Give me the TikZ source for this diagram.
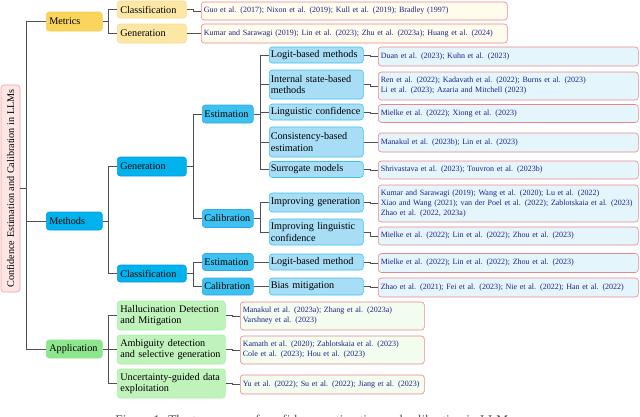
\documentclass[tikz,border=0pt]{standalone}
\usepackage{fontspec}
\setmainfont{Liberation Serif}
\usepackage{xcolor}
\usepackage{tikz}

\definecolor{rootfill}{HTML}{FFE6E6}
\definecolor{rootline}{HTML}{F2A0A0}
\definecolor{citeline}{HTML}{E8878A}
\definecolor{citeblue}{HTML}{1F1F8C}
\definecolor{wireline}{HTML}{505050}
\definecolor{goldone}{HTML}{FAD55C}
\definecolor{goldtwo}{HTML}{FDE7A4}
\definecolor{goldcite}{HTML}{FFFCEE}
\definecolor{blueone}{HTML}{00B3EC}
\definecolor{bluethree}{HTML}{3DC2F0}
\definecolor{bluefour}{HTML}{A8DDF6}
\definecolor{bluecite}{HTML}{E5F5FC}
\definecolor{greenone}{HTML}{8EE58E}
\definecolor{greentwo}{HTML}{C0F2BC}
\definecolor{greencite}{HTML}{F2FCEF}

\newcommand{\boxfont}{\fontsize{10.2}{11.6}\selectfont}
\newcommand{\refsfont}{\fontsize{8}{10}\selectfont}

\begin{document}
\begin{tikzpicture}[x=1pt, y=-1pt,
  tbox/.style={draw, rounded corners=3pt, line width=0.6pt, anchor=west, align=left, inner xsep=3pt, inner ysep=0pt, font=\boxfont},
  goldbox/.style={tbox, fill=goldone, draw=goldone!90!orange},
  goldsub/.style={tbox, fill=goldtwo, draw=goldtwo!85!orange},
  bluebox/.style={tbox, fill=blueone, draw=blueone!85!blue},
  bluemid/.style={tbox, fill=bluethree, draw=bluethree!85!blue, inner xsep=2pt},
  blueleaf/.style={tbox, fill=bluefour, draw=bluethree, inner xsep=1.5pt},
  greenbox/.style={tbox, fill=greenone, draw=greenone!90!green},
  greensub/.style={tbox, fill=greentwo, draw=greentwo!85!green},
  cbox/.style={tbox, draw=citeline, font=\refsfont, text=citeblue, inner xsep=2.5pt},
  wire/.style={draw=wireline, line width=0.9pt}]

\useasboundingbox (0,0) rectangle (640,416);

% Raiz
\node[draw=rootline, fill=rootfill, rounded corners=3pt, line width=0.6pt, rotate=90,
  minimum width=207pt, minimum height=19pt, inner sep=0pt, font=\boxfont] (root) at (10.5,188.5)
  {Confidence Estimation and Calibration in LLMs};

% Nivel 1
\node[goldbox, text width=50pt, minimum height=19pt] (metrics) at (46,21.5) {Metrics};
\node[bluebox, text width=50pt, minimum height=18pt] (methods) at (46,221) {Methods};
\node[greenbox, text width=50pt, minimum height=18pt] (app) at (46,349) {Application};

% Metrics
\node[goldsub, text width=63pt, minimum height=17pt] (mcls) at (117,9.5) {Classification};
\node[goldsub, text width=63pt, minimum height=19pt] (mgen) at (117,33.5) {Generation};
\node[cbox, fill=goldcite, text width=301pt, minimum height=18pt] (rmcls) at (201,11)
  {Guo et al. (2017); Nixon et al. (2019); Kull et al. (2019); Bradley (1997)};
\node[cbox, fill=goldcite, text width=301pt, minimum height=19pt] (rmgen) at (201,33.5)
  {Kumar and Sarawagi (2019); Lin et al. (2023); Zhu et al. (2023a); Huang et al. (2024)};

% Methods
\node[bluebox, text width=63pt, minimum height=19pt] (gen) at (117,166.5) {Generation};
\node[bluebox, text width=63pt, minimum height=17pt] (cls) at (117,273.5) {Classification};

\node[bluemid, text width=47pt, minimum height=18pt] (genest) at (202,114) {Estimation};
\node[bluemid, text width=47pt, minimum height=18pt] (gencal) at (202,218.5) {Calibration};
\node[bluemid, text width=47pt, minimum height=17pt] (clsest) at (202,262) {Estimation};
\node[bluemid, text width=47pt, minimum height=17pt] (clscal) at (202,286.5) {Calibration};

\node[blueleaf, text width=91pt, minimum height=16pt] (logit) at (269,55) {Logit-based methods};
\node[blueleaf, text width=91pt, minimum height=29pt] (internal) at (269,84.5) {Internal state-based\\methods};
\node[blueleaf, text width=91pt, minimum height=16pt] (ling) at (269,112) {Linguistic confidence};
\node[blueleaf, text width=91pt, minimum height=30pt] (consist) at (269,142) {Consistency-based\\estimation};
\node[blueleaf, text width=91pt, minimum height=16pt] (surr) at (269,169.5) {Surrogate models};
\node[blueleaf, text width=91pt, minimum height=19pt] (impgen) at (269,202.5) {Improving generation};
\node[blueleaf, text width=91pt, minimum height=26pt] (impling) at (269,232) {Improving linguistic\\confidence};
\node[blueleaf, text width=91pt, minimum height=16pt] (logitone) at (269,262) {Logit-based method};
\node[blueleaf, text width=91pt, minimum height=17pt] (bias) at (269,286.5) {Bias mitigation};

\node[cbox, fill=bluecite, text width=255pt, minimum height=19pt] (rlogit) at (378,56.5)
  {Duan et al. (2023); Kuhn et al. (2023)};
\node[cbox, fill=bluecite, text width=255pt, minimum height=28pt] (rinternal) at (378,86)
  {Ren et al. (2022); Kadavath et al. (2022); Burns et al. (2023)\\Li et al. (2023); Azaria and Mitchell (2023)};
\node[cbox, fill=bluecite, text width=255pt, minimum height=18pt] (rling) at (378,113.5)
  {Mielke et al. (2022); Xiong et al. (2023)};
\node[cbox, fill=bluecite, text width=255pt, minimum height=19pt] (rconsist) at (378,142.5)
  {Manakul et al. (2023b); Lin et al. (2023)};
\node[cbox, fill=bluecite, text width=255pt, minimum height=18pt] (rsurr) at (378,170)
  {Shrivastava et al. (2023); Touvron et al. (2023b)};
\node[cbox, fill=bluecite, text width=255pt, minimum height=37pt] (rimpgen) at (378,203.5)
  {Kumar and Sarawagi (2019); Wang et al. (2020); Lu et al. (2022)\\Xiao and Wang (2021); van der Poel et al. (2022); Zablotskaia et al. (2023)\\Zhao et al. (2022, 2023a)};
\node[cbox, fill=bluecite, text width=255pt, minimum height=18pt] (rimpling) at (378,236)
  {Mielke et al. (2022); Lin et al. (2022); Zhou et al. (2023)};
\node[cbox, fill=bluecite, text width=255pt, minimum height=19pt] (rlogitone) at (378,263)
  {Mielke et al. (2022); Lin et al. (2022); Zhou et al. (2023)};
\node[cbox, fill=bluecite, text width=255pt, minimum height=19pt] (rbias) at (378,287.5)
  {Zhao et al. (2021); Fei et al. (2023); Nie et al. (2022); Han et al. (2022)};

% Application
\node[greensub, text width=102pt, minimum height=29pt] (hall) at (117,315.5) {Hallucination Detection\\and Mitigation};
\node[greensub, text width=102pt, minimum height=29pt] (amb) at (117,349.5) {Ambiguity detection\\and selective generation};
\node[greensub, text width=102pt, minimum height=29pt] (unc) at (117,383.5) {Uncertainty-guided data\\exploitation};
\node[cbox, fill=greencite, text width=179pt, minimum height=28pt] (rhall) at (240,316)
  {Manakul et al. (2023a); Zhang et al. (2023a)\\Varshney et al. (2023)};
\node[cbox, fill=greencite, text width=179pt, minimum height=28pt] (ramb) at (240,350)
  {Kamath et al. (2020); Zablotskaia et al. (2023)\\Cole et al. (2023); Hou et al. (2023)};
\node[cbox, fill=greencite, text width=179pt, minimum height=19pt] (runc) at (240,384.5)
  {Yu et al. (2022); Su et al. (2022); Jiang et al. (2023)};

% Pie de figura
\node[anchor=north, inner sep=0pt, text=black!70, font=\fontsize{13.3}{16}\selectfont] (caption) at (316,414.5)
  {Figure 1: The taxonomy of confidence estimation and calibration in LLMs.};

% Conexiones
\draw[wire] (root.south) -- ++(6,0) coordinate (j0);
\draw[wire] (j0) |- (metrics.west);
\draw[wire] (j0) |- (methods.west);
\draw[wire] (j0) |- (app.west);

\draw[wire] (metrics.east) -- ++(6,0) coordinate (jm);
\draw[wire] (jm) |- (mcls.west);
\draw[wire] (jm) |- (mgen.west);
\draw[wire] (mcls.east) -- ++(7,0) |- (rmcls.west);
\draw[wire] (mgen.east) -- ++(7,0) |- (rmgen.west);

\draw[wire] (methods.east) -- ++(6,0) coordinate (jt);
\draw[wire] (jt) |- (gen.west);
\draw[wire] (jt) |- (cls.west);

\draw[wire] (gen.east) -- ++(7,0) coordinate (jg);
\draw[wire] (jg) |- (genest.west);
\draw[wire] (jg) |- (gencal.west);
\draw[wire] (cls.east) -- ++(7,0) coordinate (jc);
\draw[wire] (jc) |- (clsest.west);
\draw[wire] (jc) |- (clscal.west);

\draw[wire] (genest.east) -- ++(7,0) coordinate (je);
\draw[wire] (je) |- (logit.west);
\draw[wire] (je) |- (internal.west);
\draw[wire] (je) |- (ling.west);
\draw[wire] (je) |- (consist.west);
\draw[wire] (je) |- (surr.west);
\draw[wire] (gencal.east) -- ++(7,0) coordinate (jk);
\draw[wire] (jk) |- (impgen.west);
\draw[wire] (jk) |- (impling.west);
\draw[wire] (clsest.east) -- (logitone.west);
\draw[wire] (clscal.east) -- (bias.west);

\draw[wire] (logit.east) -- ++(7,0) |- (rlogit.west);
\draw[wire] (internal.east) -- ++(7,0) |- (rinternal.west);
\draw[wire] (ling.east) -- ++(7,0) |- (rling.west);
\draw[wire] (consist.east) -- ++(7,0) |- (rconsist.west);
\draw[wire] (surr.east) -- ++(7,0) |- (rsurr.west);
\draw[wire] (impgen.east) -- ++(7,0) |- (rimpgen.west);
\draw[wire] (impling.east) -- ++(7,0) |- (rimpling.west);
\draw[wire] (logitone.east) -- ++(7,0) |- (rlogitone.west);
\draw[wire] (bias.east) -- ++(7,0) |- (rbias.west);

\draw[wire] (app.east) -- ++(6,0) coordinate (ja);
\draw[wire] (ja) |- (hall.west);
\draw[wire] (ja) |- (amb.west);
\draw[wire] (ja) |- (unc.west);
\draw[wire] (hall.east) -- ++(7,0) |- (rhall.west);
\draw[wire] (amb.east) -- ++(7,0) |- (ramb.west);
\draw[wire] (unc.east) -- ++(7,0) |- (runc.west);

\end{tikzpicture}
\end{document}
